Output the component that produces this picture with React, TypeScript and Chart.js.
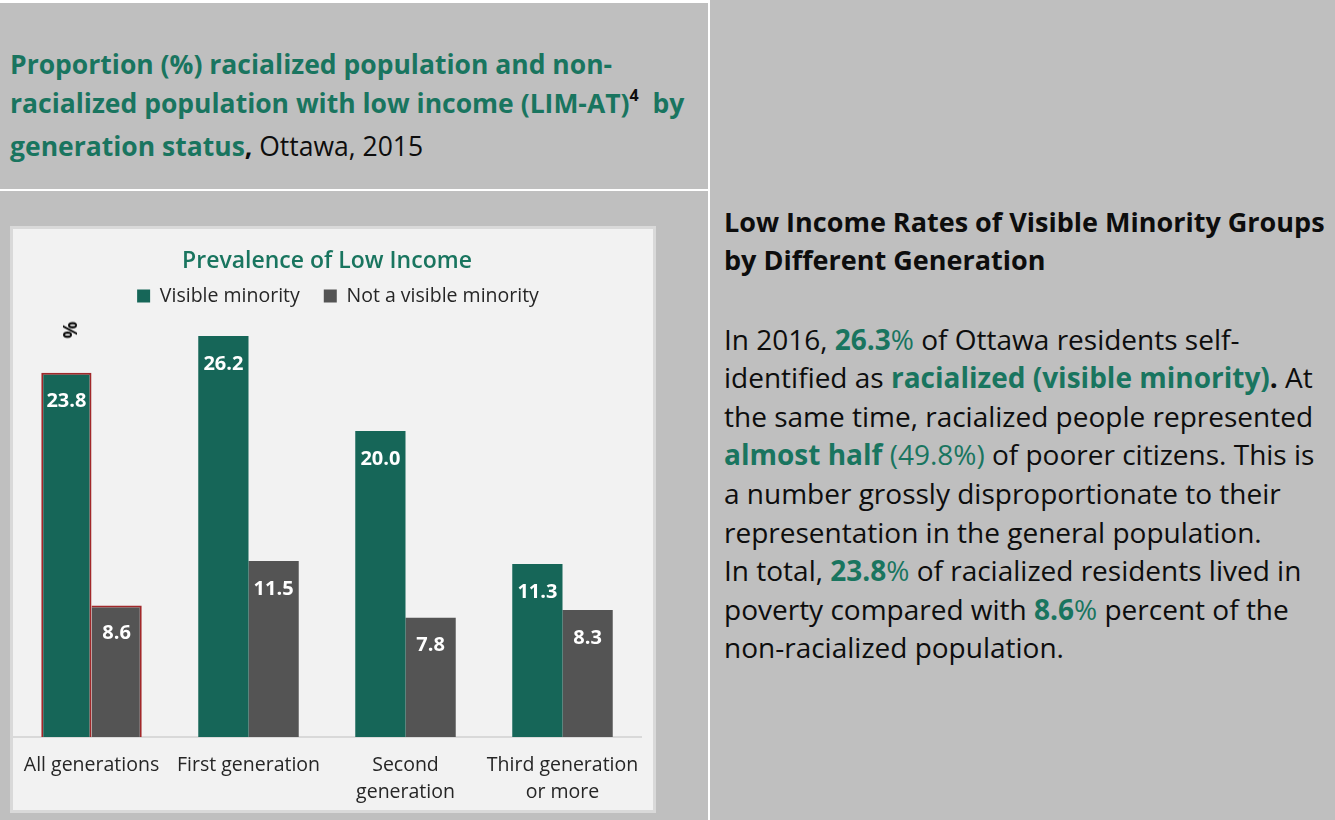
import React, { useEffect, useRef } from "react";
import { Chart, registerables } from "chart.js";

Chart.register(...registerables);

// ---- data ----
const categories: string[][] = [
  ["All generations"],
  ["First generation"],
  ["Second", "generation"],
  ["Third generation", "or more"],
];
const visibleMinority = [23.8, 26.2, 20.0, 11.3];
const notVisibleMinority = [8.6, 11.5, 7.8, 8.3];
const seriesNames = ["Visible minority", "Not a visible minority"];
const chartTitle = "Prevalence of Low Income";
const yUnitLabel = "%";
const highlightedCategory = 0;

// ---- style ----
const FONT = "'Open Sans', Lato, 'Liberation Sans', sans-serif";
const GREEN_TEXT = "#19755f";
const GREEN_BAR = "#166658";
const GRAY_BAR = "#545454";
const RED_EDGE = "#a1282a";
const PANEL = "#bfbfbf";

const valueLabels = {
  id: "valueLabels",
  afterDatasetsDraw(chart: any) {
    const ctx = chart.ctx;
    ctx.save();
    ctx.font = `bold 20px ${FONT}`;
    ctx.fillStyle = "#ffffff";
    ctx.textAlign = "center";
    ctx.textBaseline = "middle";
    chart.data.datasets.forEach((ds: any, di: number) => {
      const meta = chart.getDatasetMeta(di);
      meta.data.forEach((el: any, i: number) => {
        const v = ds.data[i] as number;
        ctx.fillText(v.toFixed(1), el.x, el.y + 28);
      });
    });
    ctx.restore();
  },
};

const legendShift = {
  id: "legendShift",
  afterLayout(chart: any) {
    if (chart.legend) {
      chart.legend.left += 11;
      chart.legend.right += 11;
    }
  },
};

function BarChart() {
  const ref = useRef<HTMLCanvasElement | null>(null);
  useEffect(() => {
    if (!ref.current) return;
    const chart = new Chart(ref.current, {
      type: "bar",
      data: {
        labels: categories,
        datasets: [
          {
            label: seriesNames[0],
            data: visibleMinority,
            backgroundColor: GREEN_BAR,
            borderColor: (c: any) => (c.dataIndex === highlightedCategory ? RED_EDGE : "rgba(0,0,0,0)"),
            borderWidth: (c: any) =>
              c.dataIndex === highlightedCategory ? { top: 2, left: 2, right: 2, bottom: 0 } : 0,
            borderSkipped: false,
            categoryPercentage: 0.64,
            barPercentage: 1.0,
          },
          {
            label: seriesNames[1],
            data: notVisibleMinority,
            backgroundColor: GRAY_BAR,
            borderColor: (c: any) => (c.dataIndex === highlightedCategory ? RED_EDGE : "rgba(0,0,0,0)"),
            borderWidth: (c: any) =>
              c.dataIndex === highlightedCategory ? { top: 2, left: 0, right: 2, bottom: 0 } : 0,
            borderSkipped: false,
            categoryPercentage: 0.64,
            barPercentage: 1.0,
          },
        ],
      },
      options: {
        responsive: false,
        animation: false,
        devicePixelRatio: 1,
        layout: { padding: { left: 0, right: 12, top: 0, bottom: 0 } },
        plugins: {
          title: {
            display: true,
            text: chartTitle,
            color: GREEN_TEXT,
            font: { family: FONT, size: 23, weight: 600, lineHeight: 1.2 },
            padding: { top: 18.2, bottom: -12.55 },
          },
          legend: {
            display: true,
            position: "top",
            labels: {
              boxWidth: 13,
              boxHeight: 13,
              padding: 24,
              color: "#262626",
              font: { family: FONT, size: 19.5 },
              generateLabels: (chart: any) =>
                Chart.defaults.plugins.legend.labels
                  .generateLabels(chart)
                  .map((l: any) => ({ ...l, lineWidth: 0, strokeStyle: "rgba(0,0,0,0)" })),
            },
          },
          tooltip: { enabled: false },
        },
        scales: {
          x: {
            grid: { display: false, drawTicks: false, tickLength: 0 },
            border: { display: true, color: "#d9d9d9", width: 2 },
            ticks: {
              color: "#262626",
              font: { family: FONT, size: 19.5, lineHeight: 1.385 },
              padding: 15,
              maxRotation: 0,
              autoSkip: false,
            },
            afterFit: (s: any) => {
              s.height = 73;
              s.paddingLeft = 0;
              s.paddingRight = 0;
            },
          },
          y: {
            display: false,
            min: 0,
            max: 27.53,
          },
        },
      },
      plugins: [valueLabels, legendShift],
    } as any);
    return () => chart.destroy();
  }, []);
  return (
    <canvas
      ref={ref}
      width={640}
      height={581}
      style={{ position: "absolute", left: 0, top: 0, width: 640, height: 581 }}
    />
  );
}

const G = ({ children, bold = true }: { children: any; bold?: boolean }) => (
  <span style={{ color: GREEN_TEXT, fontWeight: bold ? 700 : 400 }}>{children}</span>
);

export default function App() {
  return (
    <div
      style={{
        position: "fixed",
        left: 0,
        top: 0,
        width: 1335,
        height: 820,
        background: "#ffffff",
        overflow: "hidden",
        fontFamily: FONT,
        color: "#0d0d0d",
      }}
    >
      {/* cells */}
      <div style={{ position: "absolute", left: 0, top: 3, width: 708, height: 186, background: PANEL }} />
      <div style={{ position: "absolute", left: 0, top: 191, width: 708, height: 629, background: PANEL }} />
      <div style={{ position: "absolute", left: 710, top: 0, width: 625, height: 820, background: PANEL }} />

      {/* left title */}
      <div
        style={{
          position: "absolute",
          left: 10,
          top: 44.5,
          fontSize: 26.5,
          lineHeight: "39px",
          fontWeight: 700,
          color: GREEN_TEXT,
          whiteSpace: "nowrap",
        }}
      >
        Proportion (%) racialized population and non-
        <br />
        racialized population with low income (LIM-AT)
        <span style={{ color: "#0d0d0d", fontSize: 16, position: "relative", top: -12 }}>4</span>
        {"\u00a0 by"}
        <br />
        generation status<span style={{ color: "#0d0d0d" }}>,</span>
        <span style={{ color: "#0d0d0d", fontWeight: 400 }}> Ottawa, 2015</span>
      </div>

      {/* chart box */}
      <div
        style={{
          position: "absolute",
          left: 10,
          top: 226,
          width: 646,
          height: 587,
          boxSizing: "border-box",
          border: "3px solid #d9d9d9",
          background: "#f2f2f2",
        }}
      >
        <div style={{ position: "absolute", left: 0, top: 0, width: 640, height: 581 }}>
          <BarChart />
          <span
            style={{
              position: "absolute",
              left: 57,
              top: 101,
              transform: "translate(-50%, -50%) rotate(-90deg)",
              fontSize: 19,
              fontWeight: 700,
              color: "#0d0d0d",
              lineHeight: "20px",
            }}
          >
            {yUnitLabel}
          </span>
        </div>
      </div>

      {/* right text */}
      <div
        style={{
          position: "absolute",
          left: 724,
          top: 203,
          fontSize: 27,
          lineHeight: "38px",
          fontWeight: 700,
          whiteSpace: "nowrap",
        }}
      >
        Low Income Rates of Visible Minority Groups
        <br />
        by Different Generation
      </div>
      <div
        style={{
          position: "absolute",
          left: 724,
          top: 319.7,
          fontSize: 28,
          lineHeight: "38.6px",
          fontWeight: 400,
          whiteSpace: "nowrap",
        }}
      >
        In 2016, <G>26.3</G>
        <G bold={false}>%</G> of Ottawa residents self-
        <br />
        identified as <G>racialized (visible minority)</G>
        <b>.</b> At
        <br />
        the same time, racialized people represented
        <br />
        <G>almost half</G> <G bold={false}>(49.8%)</G> of poorer citizens. This is
        <br />
        a number grossly disproportionate to their
        <br />
        representation in the general population.
        <br />
        In total, <G>23.8</G>
        <G bold={false}>%</G> of racialized residents lived in
        <br />
        poverty compared with <G>8.6</G>
        <G bold={false}>%</G> percent of the
        <br />
        non-racialized population.
      </div>
    </div>
  );
}
